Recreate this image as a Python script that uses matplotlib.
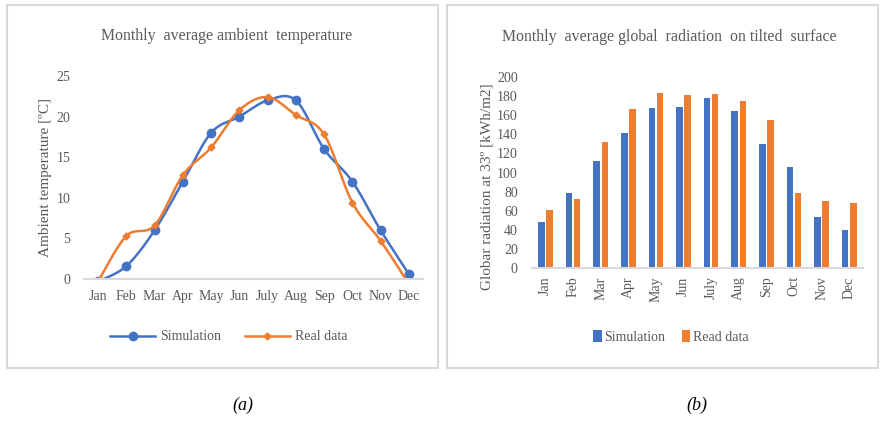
import matplotlib
matplotlib.use("Agg")
from matplotlib import pyplot as plt
from matplotlib.patches import Rectangle
import numpy as np

months = ['Jan', 'Feb', 'Mar', 'Apr', 'May', 'Jun', 'July', 'Aug', 'Sep', 'Oct', 'Nov', 'Dec']

# ambient temperature [C]
temp_sim = [-0.3, 1.6, 6.0, 12.0, 18.0, 20.0, 22.0, 22.0, 16.0, 12.0, 6.0, 0.6]
temp_real = [-0.3, 5.3, 6.6, 12.8, 16.2, 20.8, 22.4, 20.2, 17.8, 9.4, 4.7, -0.6]

# global radiation on tilted surface [kWh/m2]
rad_sim = [48, 79, 112, 141, 168, 169, 178, 164, 130, 106, 53, 40]
rad_real = [61, 72, 132, 166, 183, 181, 182, 175, 155, 79, 70, 68]

blue = '#4472C4'
orange = '#ED7D31'
txt = '#595959'
axcol = '#D9D9D9'

plt.rcParams['font.family'] = ['Liberation Serif', 'DejaVu Serif']


def smooth(xs, ys, n=20):
    # excel-like smoothed line (bezier through the points)
    xs = np.asarray(xs, float)
    ys = np.asarray(ys, float)
    px = np.concatenate([[xs[0]], xs, [xs[-1]]])
    py = np.concatenate([[ys[0]], ys, [ys[-1]]])
    outx, outy = [], []
    t = np.linspace(0, 1, n)
    for i in range(1, len(px) - 2):
        p0 = np.array([px[i], py[i]])
        p3 = np.array([px[i + 1], py[i + 1]])
        c1 = p0 + (np.array([px[i + 1], py[i + 1]]) - np.array([px[i - 1], py[i - 1]])) / 6
        c2 = p3 - (np.array([px[i + 2], py[i + 2]]) - np.array([px[i], py[i]])) / 6
        b = ((1 - t) ** 3)[:, None] * p0 + (3 * (1 - t) ** 2 * t)[:, None] * c1 \
            + (3 * (1 - t) * t ** 2)[:, None] * c2 + (t ** 3)[:, None] * p3
        outx.extend(b[:, 0])
        outy.extend(b[:, 1])
    return outx, outy


W, H = 880, 421
fig = plt.figure(figsize=(8.8, 4.21), dpi=100)

# panel frames
for x0 in [7 / W, 447 / W]:
    fig.patches.append(Rectangle((x0, 1 - 368 / H), 431 / W, 363 / H,
                                 transform=fig.transFigure, fill=False,
                                 edgecolor=axcol, lw=1.5))

# ---- (a) temperature ----
ax1 = fig.add_axes([84 / W, 1 - 279 / H, 339 / W, 203 / H])
x = np.arange(len(months))
sx, sy = smooth(x, temp_sim)
rx, ry = smooth(x, temp_real)
ax1.plot(sx, sy, color=blue, lw=1.8)
ax1.plot(x, temp_sim, ls='none', marker='o', ms=6, color=blue)
ax1.plot(rx, ry, color=orange, lw=1.8)
ax1.plot(x, temp_real, ls='none', marker='D', ms=3.5, color=orange)
h1 = ax1.plot([], [], color=blue, lw=1.8, marker='o', ms=6, label='Simulation')[0]
h2 = ax1.plot([], [], color=orange, lw=1.8, marker='D', ms=3.5, label='Real data')[0]
ax1.set_xlim(-0.5, 11.5)
ax1.set_ylim(0, 25)
ax1.set_yticks([0, 5, 10, 15, 20, 25])
ax1.set_xticks(x)
ax1.set_xticklabels(months)
ax1.set_ylabel('Ambient temperature [ºC]', color=txt, fontsize=11, labelpad=3)
fig.text(227 / W, 1 - 36 / H, 'Monthly  average ambient  temperature', color=txt,
         fontsize=11.4, ha='center', va='center')
fig.legend(handles=[h1, h2], loc='center', bbox_to_anchor=(229 / W, 1 - 337 / H), ncol=2,
           frameon=False, fontsize=10, handlelength=3.2, handletextpad=0.4,
           columnspacing=1.7, labelcolor=txt)

# ---- (b) radiation ----
ax2 = fig.add_axes([531.7 / W, 1 - 268 / H, 331.3 / W, 191 / H])
w = 0.235
b1 = ax2.bar(x - w / 2 - 0.03, rad_sim, width=w, color=blue, label='Simulation')
b2 = ax2.bar(x + w / 2 + 0.03, rad_real, width=w, color=orange, label='Read data')
ax2.set_xlim(-0.5, 11.5)
ax2.set_ylim(0, 200)
ax2.set_yticks(range(0, 201, 20))
ax2.set_xticks(x)
ax2.set_xticklabels(months, rotation=90)
ax2.set_ylabel('Globar radiation at 33º [kWh/m2]', color=txt, fontsize=11)
ax2.yaxis.set_label_coords(-0.115, 0.424)
fig.text(669 / W, 1 - 37 / H, 'Monthly  average global  radiation  on tilted  surface',
         color=txt, fontsize=11.4, ha='center', va='center')
fig.legend(handles=[b1, b2], loc='center', bbox_to_anchor=(671 / W, 1 - 337 / H), ncol=2,
           frameon=False, fontsize=10, handlelength=0.6, handleheight=0.9,
           handletextpad=0.2, columnspacing=1.2, labelcolor=txt)

for ax in (ax1, ax2):
    for s in ['top', 'right', 'left']:
        ax.spines[s].set_visible(False)
    ax.spines['bottom'].set_color(axcol)
    ax.spines['bottom'].set_linewidth(1.5)
    ax.tick_params(length=0, colors=txt, labelsize=10)
    ax.patch.set_alpha(0)
ax1.tick_params(axis='y', pad=10)
ax1.tick_params(axis='x', pad=8)
ax2.tick_params(axis='y', pad=10)
ax2.tick_params(axis='x', pad=6)

fig.text(243 / W, 1 - 405 / H, '(a)', fontsize=13, style='italic', ha='center', va='center')
fig.text(697 / W, 1 - 405 / H, '(b)', fontsize=13, style='italic', ha='center', va='center')

fig.savefig('out.png', dpi=100)
